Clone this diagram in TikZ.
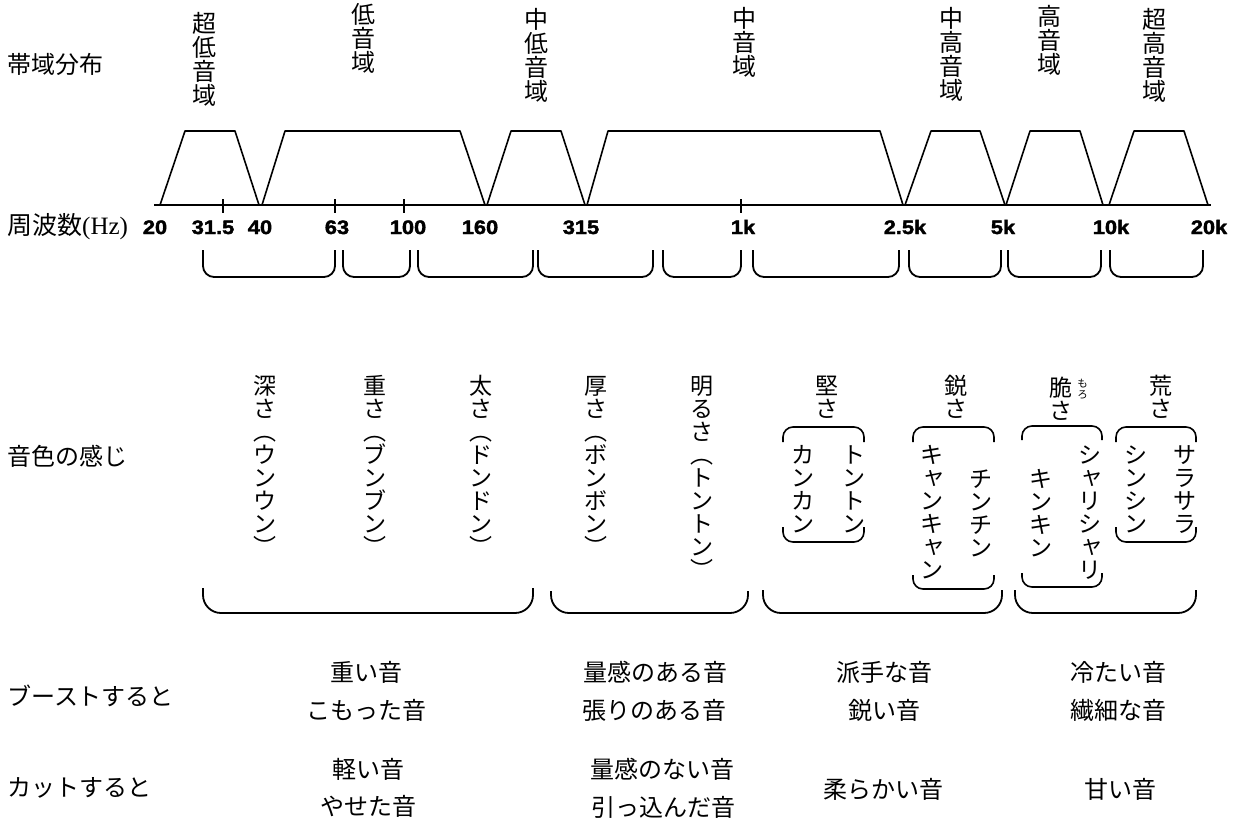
\documentclass[tikz,border=0pt]{standalone}
\usepackage{fontspec}
\newfontfamily\jp{Noto Sans CJK JP}
\newfontfamily\numfont[UprightFont=* Bold,FakeStretch=1.12,FakeBold=2]{Liberation Sans}
\newfontfamily\serif{Liberation Serif}
\newcommand\jpL{\jp\fontsize{24pt}{24pt}\selectfont}
\newdimen\vtem
\def\vtend{}
\newcommand\vtcell[1]{\hbox to\vtem{\hss\vrule height .88\vtem depth .12\vtem width 0pt\relax
  \ifx ャ#1\raise.1\vtem\hbox{\kern.2\vtem\smash{#1}}\else\smash{#1}\fi\hss}}
\def\vtloop#1{\ifx\vtend#1\else\vtcell{#1}\expandafter\vtloop\fi}
\newcommand\vtext[2]{{\jp\fontsize{#1}{#1}\selectfont\vtem=#1\relax\vbox{\offinterlineskip\vtloop#2\vtend}}}
\begin{document}
\begin{tikzpicture}[x=1pt,y=-1pt,line join=round,
  trap/.style={line width=1.6pt},
  brk/.style={line width=1.8pt,rounded corners=11pt},
  brkb/.style={line width=1.8pt,rounded corners=18pt},
  grp/.style={line width=1.6pt,rounded corners=10pt},
  lab/.style={anchor=base west,inner sep=0pt,font=\jpL},
  txt/.style={anchor=base,inner sep=0pt,font=\jpL},
  num/.style={anchor=base,inner sep=0pt,font=\numfont\fontsize{19.5pt}{19.5pt}\selectfont},
  vt/.style={anchor=north,inner sep=0pt}]
\useasboundingbox (0,0) rectangle (1234,825);
\fill[white] (0,0) rectangle (1234,825);
% left labels
\node[lab] (lband) at (7,73) {帯域分布};
\node[lab] (lfreq) at (7,234) {{\fontsize{25pt}{25pt}\selectfont 周波数}{\serif\fontsize{25pt}{25pt}\selectfont(Hz)}};
\node[lab] (ltone) at (7,465) {音色の感じ};
\node[lab] (lboost) at (7,705) {ブーストすると};
\node[lab] (lcut) at (7,796) {カットすると};
% band labels
\node[vt] (b1) at (204,10.8) {\vtext{24pt}{超低音域}};
\node[vt] (b2) at (363,2) {\vtext{24pt}{低音域}};
\node[vt] (b3) at (536,7) {\vtext{24pt}{中低音域}};
\node[vt] (b4) at (744,6) {\vtext{24pt}{中音域}};
\node[vt] (b5) at (951,6) {\vtext{24pt}{中高音域}};
\node[vt] (b6) at (1049,4) {\vtext{24pt}{高音域}};
\node[vt] (b7) at (1154,7) {\vtext{24pt}{超高音域}};
% trapezoids and axis
\draw[trap] (154,205) -- (1211,205);
\draw[trap] (160,205) -- (185,131) -- (235,131) -- (259,205);
\draw[trap] (262,205) -- (285,131) -- (460,131) -- (485,205);
\draw[trap] (487,205) -- (511,131) -- (561,131) -- (585,205);
\draw[trap] (587,205) -- (608,131) -- (880,131) -- (903,205);
\draw[trap] (905,205) -- (931,131) -- (980,131) -- (1005,205);
\draw[trap] (1006,205) -- (1030,131) -- (1080,131) -- (1103,205);
\draw[trap] (1109,205) -- (1134,131) -- (1184,131) -- (1208,205);
\foreach \x in {223,335,404,741} \draw[trap] (\x,199) -- (\x,213);
% frequency labels
\node[num] (f1) at (155,234) {20};
\node[num] (f2) at (213,234) {31.5};
\node[num] (f3) at (260,234) {40};
\node[num] (f4) at (337,234) {63};
\node[num] (f5) at (408,234) {100};
\node[num] (f6) at (480,234) {160};
\node[num] (f7) at (581,234) {315};
\node[num] (f8) at (743,234) {1k};
\node[num] (f9) at (905,234) {2.5k};
\node[num] (f10) at (1003,234) {5k};
\node[num] (f11) at (1111,234) {10k};
\node[num] (f12) at (1209,234) {20k};
% brackets row 1
\foreach \a/\b in {203/335,343/410,418/533,538/653,663/741,753/899,909/1001,1008/1101,1110/1203}
  \draw[brk] (\a,250) -- (\a,277) -- (\b,277) -- (\b,250);
% tone texts
\node[vt] (t1) at (265,374) {\vtext{23pt}{深さ︵ウンウン︶}};
\node[vt] (t2) at (375,374) {\vtext{23pt}{重さ︵ブンブン︶}};
\node[vt] (t3) at (481,374) {\vtext{23pt}{太さ︵ドンドン︶}};
\node[vt] (t4) at (596,374) {\vtext{23pt}{厚さ︵ボンボン︶}};
\node[vt] (t5) at (702,374) {\vtext{23pt}{明るさ︵トントン︶}};
\node[vt] (t6) at (827,374) {\vtext{23pt}{堅さ}};
\node[vt] (t7) at (956,374) {\vtext{23pt}{鋭さ}};
\node[vt] (t8) at (1061,376) {\vtext{23pt}{脆さ}};
\node[vt] (t8r) at (1082.5,378.5) {\vtext{10.5pt}{もろ}};
\node[vt] (t9) at (1161,374) {\vtext{23pt}{荒さ}};
\node[vt] (s1) at (803,443) {\vtext{23pt}{カンカン}};
\node[vt] (s2) at (854,443) {\vtext{23pt}{トントン}};
\node[vt] (s3) at (932,443) {\vtext{23pt}{キャンキャン}};
\node[vt] (s4) at (981,467) {\vtext{23pt}{チンチン}};
\node[vt] (s5) at (1041,467) {\vtext{23pt}{キンキン}};
\node[vt] (s6) at (1090,443) {\vtext{23pt}{シャリシャリ}};
\node[vt] (s7) at (1136,443) {\vtext{23pt}{シンシン}};
\node[vt] (s8) at (1185,443) {\vtext{23pt}{サラサラ}};
% group brackets
\draw[grp] (783,442) -- (783,427) -- (864,427) -- (864,442);
\draw[grp] (783,527) -- (783,542) -- (864,542) -- (864,527);
\draw[grp] (913,442) -- (913,427) -- (994,427) -- (994,442);
\draw[grp] (913,575) -- (913,589) -- (994,589) -- (994,575);
\draw[grp] (1022,440) -- (1022,426) -- (1102,426) -- (1102,440);
\draw[grp] (1022,573) -- (1022,587) -- (1102,587) -- (1102,573);
\draw[grp] (1116,442) -- (1116,427) -- (1196,427) -- (1196,442);
\draw[grp] (1116,527) -- (1116,542) -- (1196,542) -- (1196,527);
% brackets row 2
\draw[brkb] (203,588) -- (203,613) -- (533,613) -- (533,588);
\draw[brkb] (551,591) -- (551,613) -- (748,613) -- (748,591);
\draw[brkb] (763,590) -- (763,613) -- (1002,613) -- (1002,590);
\draw[brkb] (1015,590) -- (1015,613) -- (1196,613) -- (1196,590);
% boost / cut texts
\node[txt] (u1) at (366,681) {重い音};
\node[txt] (u2) at (366,719) {こもった音};
\node[txt] (u3) at (655,681) {量感のある音};
\node[txt] (u4) at (654,719) {張りのある音};
\node[txt] (u5) at (884,681) {派手な音};
\node[txt] (u6) at (884,719) {鋭い音};
\node[txt] (u7) at (1118,681) {冷たい音};
\node[txt] (u8) at (1118,719) {繊細な音};
\node[txt] (c1) at (368,778) {軽い音};
\node[txt] (c2) at (368,815) {やせた音};
\node[txt] (c3) at (662,778) {量感のない音};
\node[txt] (c4) at (663,816) {引っ込んだ音};
\node[txt] (c5) at (883,798) {柔らかい音};
\node[txt] (c6) at (1120,798) {甘い音};
\end{tikzpicture}
\end{document}
